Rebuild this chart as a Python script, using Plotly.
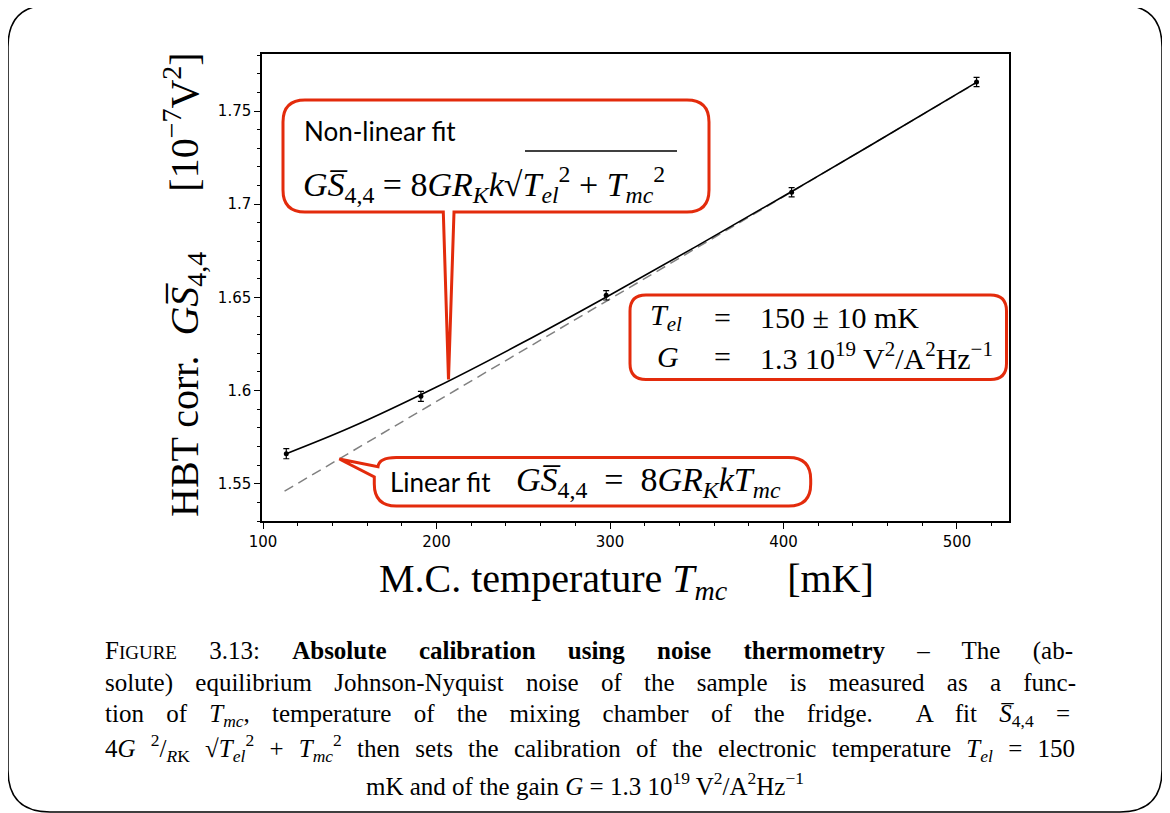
import plotly.graph_objects as go

# measured points (M.C. temperature in mK, HBT correlation in 1e-7 V^2)
t_mc = [113.4, 191.0, 297.8, 404.7, 511.3]
s44 = [1.5661, 1.5969, 1.6511, 1.7064, 1.7656]
s44_err = [0.0027, 0.0027, 0.0025, 0.0025, 0.0025]

# non-linear fit curve
fit_t = [113.4, 150, 200, 250, 300, 350, 400, 450, 512]
fit_s = [1.5661, 1.5800, 1.6019, 1.6259, 1.6513, 1.6775, 1.7043, 1.7315, 1.7658]

# linear fit (dashed)
lin_t = [112.4, 512]
lin_s = [1.546, 1.7656]

x_ticks = [100, 200, 300, 400, 500]
y_ticks = [1.55, 1.6, 1.65, 1.7, 1.75]
y_ticktext = ["1.55", "1.6", "1.65", "1.7", "1.75"]

OFF = 8                      # page body margin
W, H = 1170 - OFF, 813 - OFF
L, R, T, B = 262, 1009, 54, 521   # plot area in window pixels
RED = "#e32b0c"
SERIF = "Liberation Serif"
SP = "\u2002"
MSP = "\u2005"


def px(x, y):
    # window pixel -> paper coordinates
    return (x - L) / (R - L), (B - y) / (B - T)


def path(cmds):
    out = []
    for c in cmds:
        s = c[0]
        for (x, y) in c[1:]:
            a, b = px(x, y)
            s += " %.5f,%.5f" % (a, b)
        out.append(s)
    return " ".join(out) + " Z"


def rounded(x0, y0, x1, y1, r):
    return [("M", (x0 + r, y0)), ("L", (x1 - r, y0)), ("Q", (x1, y0), (x1, y0 + r)),
            ("L", (x1, y1 - r)), ("Q", (x1, y1), (x1 - r, y1)),
            ("L", (x0 + r, y1)), ("Q", (x0, y1), (x0, y1 - r)),
            ("L", (x0, y0 + r)), ("Q", (x0, y0), (x0 + r, y0))]


fig = go.Figure()

fig.add_trace(go.Scatter(x=lin_t, y=lin_s, mode="lines",
                         line=dict(color="#808080", width=1.5, dash="10px,6px")))
fig.add_trace(go.Scatter(x=fit_t, y=fit_s, mode="lines",
                         line=dict(color="black", width=1.6, shape="spline")))
fig.add_trace(go.Scatter(x=t_mc, y=s44, mode="markers",
                         marker=dict(color="black", size=5),
                         error_y=dict(type="data", array=s44_err, color="black",
                                      thickness=1.2, width=3)))

shapes = []
# outer frame
shapes.append(dict(type="path", xref="paper", yref="paper",
                   path=path(rounded(8, 5, 1162, 812, 42)),
                   line=dict(color="black", width=1.5), layer="below"))

# non-linear fit callout
x0, y0, x1, y1, r = 283, 100, 709, 212, 22
c1 = [("M", (x0 + r, y0)), ("L", (x1 - r, y0)), ("Q", (x1, y0), (x1, y0 + r)),
      ("L", (x1, y1 - r)), ("Q", (x1, y1), (x1 - r, y1)),
      ("L", (454, y1)), ("L", (448.5, 379.5)), ("L", (443.3, y1)),
      ("L", (x0 + r, y1)), ("Q", (x0, y1), (x0, y1 - r)),
      ("L", (x0, y0 + r)), ("Q", (x0, y0), (x0 + r, y0))]
shapes.append(dict(type="path", xref="paper", yref="paper", path=path(c1),
                   line=dict(color=RED, width=3), fillcolor="white", layer="above"))

# parameter box
shapes.append(dict(type="path", xref="paper", yref="paper",
                   path=path(rounded(630, 295, 1006.5, 379.5, 16)),
                   line=dict(color=RED, width=3), fillcolor="white", layer="above"))

# linear fit callout
x0, y0, x1, y1, r = 374.3, 457.5, 810.7, 506, 22
c3 = [("M", (x0 + r, y0)), ("L", (x1 - r, y0)), ("Q", (x1, y0), (x1, y0 + r)),
      ("L", (x1, y1 - r)), ("Q", (x1, y1), (x1 - r, y1)),
      ("L", (x0 + r, y1)), ("Q", (x0, y1), (x0, y1 - r)),
      ("L", (x0, 477)), ("L", (339.3, 459)), ("L", (378, 466.7)),
      ("Q", (379, y0), (x0 + r, y0))]
shapes.append(dict(type="path", xref="paper", yref="paper", path=path(c3),
                   line=dict(color=RED, width=3), fillcolor="white", layer="above"))

# square-root bar in the non-linear fit formula
a, b = px(525, 151)
c, d = px(677, 151)
shapes.append(dict(type="line", xref="paper", yref="paper", x0=a, y0=b, x1=c, y1=d,
                   line=dict(color="black", width=1.3), layer="above"))

ann = []


def text(x, y, s, size, family=SERIF, xanchor="left", angle=0):
    a, b = px(x, y)
    ann.append(dict(xref="paper", yref="paper", x=a, y=b, text=s, showarrow=False,
                    xanchor=xanchor, yanchor="middle", textangle=angle,
                    font=dict(family=family, size=size, color="black")))


S44 = "<i>G</i><i>S\u0305</i><sub>4,4</sub>"

# axis titles
text(626, 581, "M.C. temperature <i>T<sub>mc</sub></i>" + SP * 3 + "[mK]", 40, xanchor="center")
text(184, 285, "HBT corr." + SP + S44 + SP * 3 + "[10<sup>\u22127</sup>V<sup>2</sup>]", 40,
     xanchor="center", angle=-90)

# callout texts
text(302, 131, "Non-linear fit", 26, family="Lato")
text(301, 184, S44 + MSP + "=" + MSP + "8<i>GR</i><sub><i>K</i></sub><i>k</i>\u221a<i>T</i><sub><i>el</i></sub><sup>2</sup> + "
     "<i>T</i><sub><i>mc</i></sub><sup>2</sup>", 34)
text(388, 482, "Linear fit", 26, family="Lato")
text(514, 482, S44 + SP + "=" + SP + "8<i>GR</i><sub><i>K</i></sub><i>kT</i><sub><i>mc</i></sub>", 34)

text(684, 317, "<i>T<sub>el</sub></i>", 30, xanchor="right")
text(681, 356, "<i>G</i>", 30, xanchor="right")
text(722, 317, "=", 30, xanchor="center")
text(722, 356, "=", 30, xanchor="center")
text(758, 317, "150" + MSP + "\u00b1" + MSP + "10 mK", 30)
text(758, 356, "1.3 10<sup>19</sup> V<sup>2</sup>/A<sup>2</sup>Hz<sup>\u22121</sup>", 30)

# caption (justified with word spacing)
cap = [
    "F<span style='font-size:19px'>IGURE</span> 3.13: <b>Absolute calibration using noise thermometry</b> \u2013 The (ab-",
    "solute) equilibrium Johnson-Nyquist noise of the sample is measured as a func-",
    "tion of <i>T<sub>mc</sub></i>, temperature of the mixing chamber of the fridge.  A fit <i>S\u0305</i><sub>4,4</sub> =",
    "4<i>G</i> <sup>2</sup>/<sub><i>R</i>K</sub> \u221a<i>T</i><sub><i>el</i></sub><sup>2</sup> + <i>T</i><sub><i>mc</i></sub><sup>2</sup>"
    " then sets the calibration of the electronic temperature <i>T<sub>el</sub></i> = 150",
]
cap_y = [651, 683, 715, 748]
cap_ws = [26, 16, 16, 9]
for s, y, ws in zip(cap, cap_y, cap_ws):
    text(103, y, "<span style='word-spacing:%dpx'>%s</span>" % (ws, s), 25)
text(585, 784, "mK and of the gain <i>G</i> = 1.3 10<sup>19</sup> V<sup>2</sup>/A<sup>2</sup>Hz<sup>\u22121</sup>",
     25, xanchor="center")

fig.update_layout(
    width=W, height=H,
    margin=dict(l=L - OFF, r=W - (R - OFF), t=T - OFF, b=H - (B - OFF)),
    paper_bgcolor="white", plot_bgcolor="white",
    showlegend=False,
    shapes=shapes, annotations=ann,
    xaxis=dict(range=[99.4, 530], tickvals=x_ticks, showgrid=False, zeroline=False,
               ticks="outside", ticklen=6, tickwidth=1.2, tickcolor="black",
               minor=dict(dtick=20, tick0=0, ticks="outside", ticklen=3, tickcolor="black"),
               showline=True, mirror=True, linecolor="black", linewidth=1.5,
               tickfont=dict(family="DejaVu Sans", size=15, color="black")),
    yaxis=dict(range=[1.53, 1.7806], tickvals=y_ticks, ticktext=y_ticktext,
               showgrid=False, zeroline=False,
               ticks="outside", ticklen=6, tickwidth=1.2, tickcolor="black",
               minor=dict(dtick=0.01, tick0=1.5, ticks="outside", ticklen=3, tickcolor="black"),
               showline=True, mirror=True, linecolor="black", linewidth=1.5,
               tickfont=dict(family="DejaVu Sans", size=15, color="black")),
)

fig.write_html("out.html")
